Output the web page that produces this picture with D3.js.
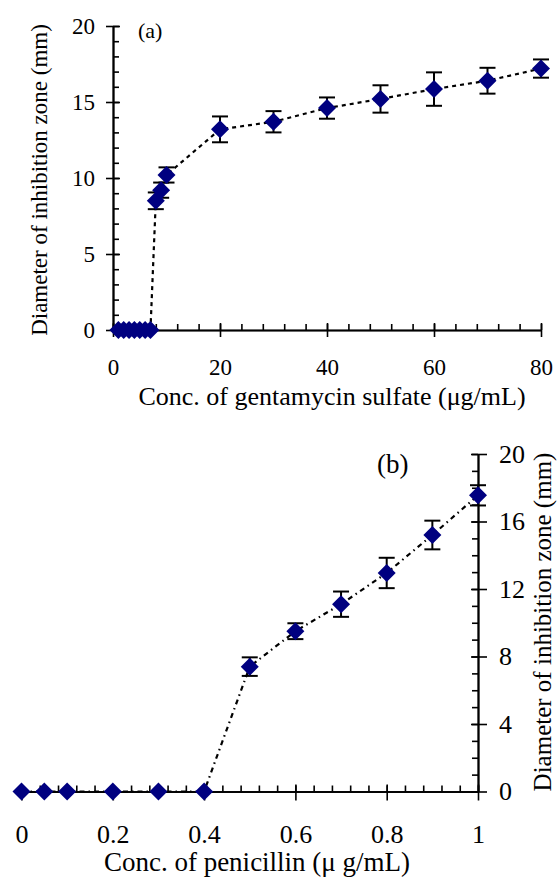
<!DOCTYPE html>
<html>
<head>
<meta charset="utf-8">
<script src="https://cdn.jsdelivr.net/npm/d3@7"></script>
<style>
    body { margin: 0; background: #fff; }
    svg { display: block; font-family: "Liberation Serif", "Times New Roman", serif; }
    .axis path, .axis line { stroke: #000; stroke-width: 1.6; }
    .axis text { fill: #000; font-family: "Liberation Serif", "Times New Roman", serif; }
</style>
</head>
<body>
<div id="chart"></div>
<script>
// panel (a): gentamycin sulfate
const concA = [1, 2, 3, 4, 5, 6, 7, 8, 9, 10, 20, 30, 40, 50, 60, 70, 80];
const zoneA = [0, 0, 0, 0, 0, 0, 0, 8.5, 9.2, 10.2, 13.2, 13.7, 14.6, 15.2, 15.85, 16.4, 17.2];
const errA = [0, 0, 0, 0, 0, 0, 0, 0.55, 0.5, 0.5, 0.85, 0.7, 0.7, 0.9, 1.1, 0.85, 0.6];
const xTicksA = [0, 20, 40, 60, 80];
const yTicksA = [0, 5, 10, 15, 20];

// panel (b): penicillin
const concB = [0, 0.05, 0.1, 0.2, 0.3, 0.4, 0.5, 0.6, 0.7, 0.8, 0.9, 1];
const zoneB = [0, 0, 0, 0, 0, 0, 7.4, 9.5, 11.1, 12.95, 15.2, 17.55];
const errB = [0, 0, 0, 0, 0, 0, 0.55, 0.47, 0.75, 0.9, 0.85, 0.6];
const xTicksB = [0, 0.2, 0.4, 0.6, 0.8, 1];
const yTicksB = [0, 4, 8, 12, 16, 20];

const W = 558, H = 879;
const svg = d3.select('#chart').append('svg')
    .attr('width', W)
    .attr('height', H);

function drawPanel(opt) {
    const g = svg.append('g').attr('class', 'panel');
    const x = d3.scaleLinear().domain(opt.xDomain).range(opt.xRange);
    const y = d3.scaleLinear().domain([0, 20]).range(opt.yRange);
    const x0 = opt.yRight ? x.range()[1] : x.range()[0];

    /* minor ticks, inside the plot */
    const minorX = d3.range(opt.xDomain[0], opt.xDomain[1] + opt.xMinor / 2, opt.xMinor);
    const minorY = d3.range(0, 20.5, 1);

    g.append('g')
        .attr('class', 'axis')
        .attr('transform', `translate(0,${y(0)})`)
        .call(d3.axisBottom(x).tickValues(minorX).tickSize(-opt.minorLen).tickSizeOuter(0).tickFormat(''));
    g.append('g')
        .attr('class', 'axis')
        .attr('transform', `translate(${x0},0)`)
        .call((opt.yRight ? d3.axisRight(y).tickSize(-opt.minorLen) : d3.axisLeft(y).tickSize(-opt.minorLen))
            .tickValues(minorY).tickSizeOuter(0).tickFormat(''));

    /* major ticks cross the axis line */
    g.append('g')
        .attr('class', 'axis')
        .attr('transform', `translate(0,${y(0)})`)
        .call(d3.axisBottom(x).tickValues(opt.xTicks).tickSize(-opt.majorIn).tickSizeOuter(0).tickFormat(''));
    const xAxis = g.append('g')
        .attr('class', 'axis')
        .attr('transform', `translate(0,${y(0)})`)
        .call(d3.axisBottom(x).tickValues(opt.xTicks).tickSize(opt.majorOut)
            .tickSizeOuter(0).tickPadding(opt.xPad).tickFormat(d3.format('')));

    g.append('g')
        .attr('class', 'axis')
        .attr('transform', `translate(${x0},0)`)
        .call((opt.yRight ? d3.axisRight(y) : d3.axisLeft(y))
            .tickValues(opt.yTicks).tickSize(-opt.majorIn).tickSizeOuter(0).tickFormat(''));
    const yAxis = g.append('g')
        .attr('class', 'axis')
        .attr('transform', `translate(${x0},0)`)
        .call((opt.yRight ? d3.axisRight(y) : d3.axisLeft(y))
            .tickValues(opt.yTicks).tickSize(opt.majorOut).tickSizeOuter(0).tickPadding(opt.yPad));

    g.selectAll('.axis').attr('font-family', null).attr('font-size', null);
    xAxis.selectAll('text').style('font-size', opt.tickFont + 'px');
    yAxis.selectAll('text').style('font-size', opt.tickFont + 'px');
    g.selectAll('.domain').attr('stroke-width', 1.8);

    const pts = opt.xs.map((v, i) => ({ x: v, y: opt.ys[i], e: opt.errs[i] }));

    g.append('path')
        .datum(pts)
        .attr('fill', 'none')
        .attr('stroke', '#000')
        .attr('stroke-width', 2.2)
        .attr('stroke-dasharray', opt.dash)
        .attr('d', d3.line().x((d) => x(d.x)).y((d) => y(d.y)));

    /* error bars */
    const eb = g.append('g').attr('class', 'errors')
        .selectAll('g')
        .data(pts.filter((d) => d.e > 0))
        .enter().append('g')
        .attr('stroke', '#000')
        .attr('stroke-width', 2);
    eb.append('line')
        .attr('x1', (d) => x(d.x)).attr('x2', (d) => x(d.x))
        .attr('y1', (d) => y(d.y - d.e)).attr('y2', (d) => y(d.y + d.e));
    [1, -1].forEach((s) => {
        eb.append('line')
            .attr('x1', (d) => x(d.x) - 8).attr('x2', (d) => x(d.x) + 8)
            .attr('y1', (d) => y(d.y + s * d.e)).attr('y2', (d) => y(d.y + s * d.e));
    });

    /* diamond markers */
    const r = opt.markR;
    g.append('g').attr('class', 'markers')
        .selectAll('path')
        .data(pts)
        .enter().append('path')
        .attr('fill', '#000080')
        .attr('d', (d) => {
            const cx = x(d.x), cy = y(d.y);
            return `M${cx},${cy - r}L${cx + r},${cy}L${cx},${cy + r}L${cx - r},${cy}Z`;
        });

    /* titles */
    g.append('text')
        .attr('x', opt.xTitle[0]).attr('y', opt.xTitle[1])
        .attr('text-anchor', 'middle')
        .style('font-size', opt.xTitleFont + 'px')
        .text(opt.xLabel);
    g.append('text')
        .attr('transform', `translate(${opt.yTitle[0]},${opt.yTitle[1]}) rotate(-90)`)
        .attr('text-anchor', 'middle')
        .style('font-size', opt.yTitleFont + 'px')
        .text('Diameter of inhibition zone (mm)');
    g.append('text')
        .attr('x', opt.tag[0]).attr('y', opt.tag[1])
        .style('font-size', opt.tagFont + 'px')
        .text(opt.tagText);
}

drawPanel({
    xs: concA, ys: zoneA, errs: errA,
    xDomain: [0, 80], xRange: [113, 541], yRange: [330, 26],
    xTicks: xTicksA, yTicks: yTicksA, xMinor: 4,
    minorLen: 6, majorIn: 7, majorOut: 7,
    xPad: 22, yPad: 11, tickFont: 23,
    dash: '4,4', markR: 9,
    xLabel: 'Conc. of gentamycin sulfate (\u03bcg/mL)', xTitle: [332, 405], xTitleFont: 26,
    yTitle: [47, 180], yTitleFont: 23,
    tag: [138, 38], tagText: '(a)', tagFont: 22,
    yRight: false
});

drawPanel({
    xs: concB, ys: zoneB, errs: errB,
    xDomain: [0, 1], xRange: [21.5, 478], yRange: [791.5, 454],
    xTicks: xTicksB, yTicks: yTicksB, xMinor: 0.04,
    minorLen: 6, majorIn: 7, majorOut: 9,
    xPad: 24, yPad: 12, tickFont: 26,
    dash: '5,4,1.5,4', markR: 9,
    xLabel: 'Conc. of penicillin (\u03bc g/mL)', xTitle: [257, 871], xTitleFont: 27,
    yTitle: [551, 622], yTitleFont: 25,
    tag: [377, 473], tagText: '(b)', tagFont: 27,
    yRight: true
});
</script>
</body>
</html>
